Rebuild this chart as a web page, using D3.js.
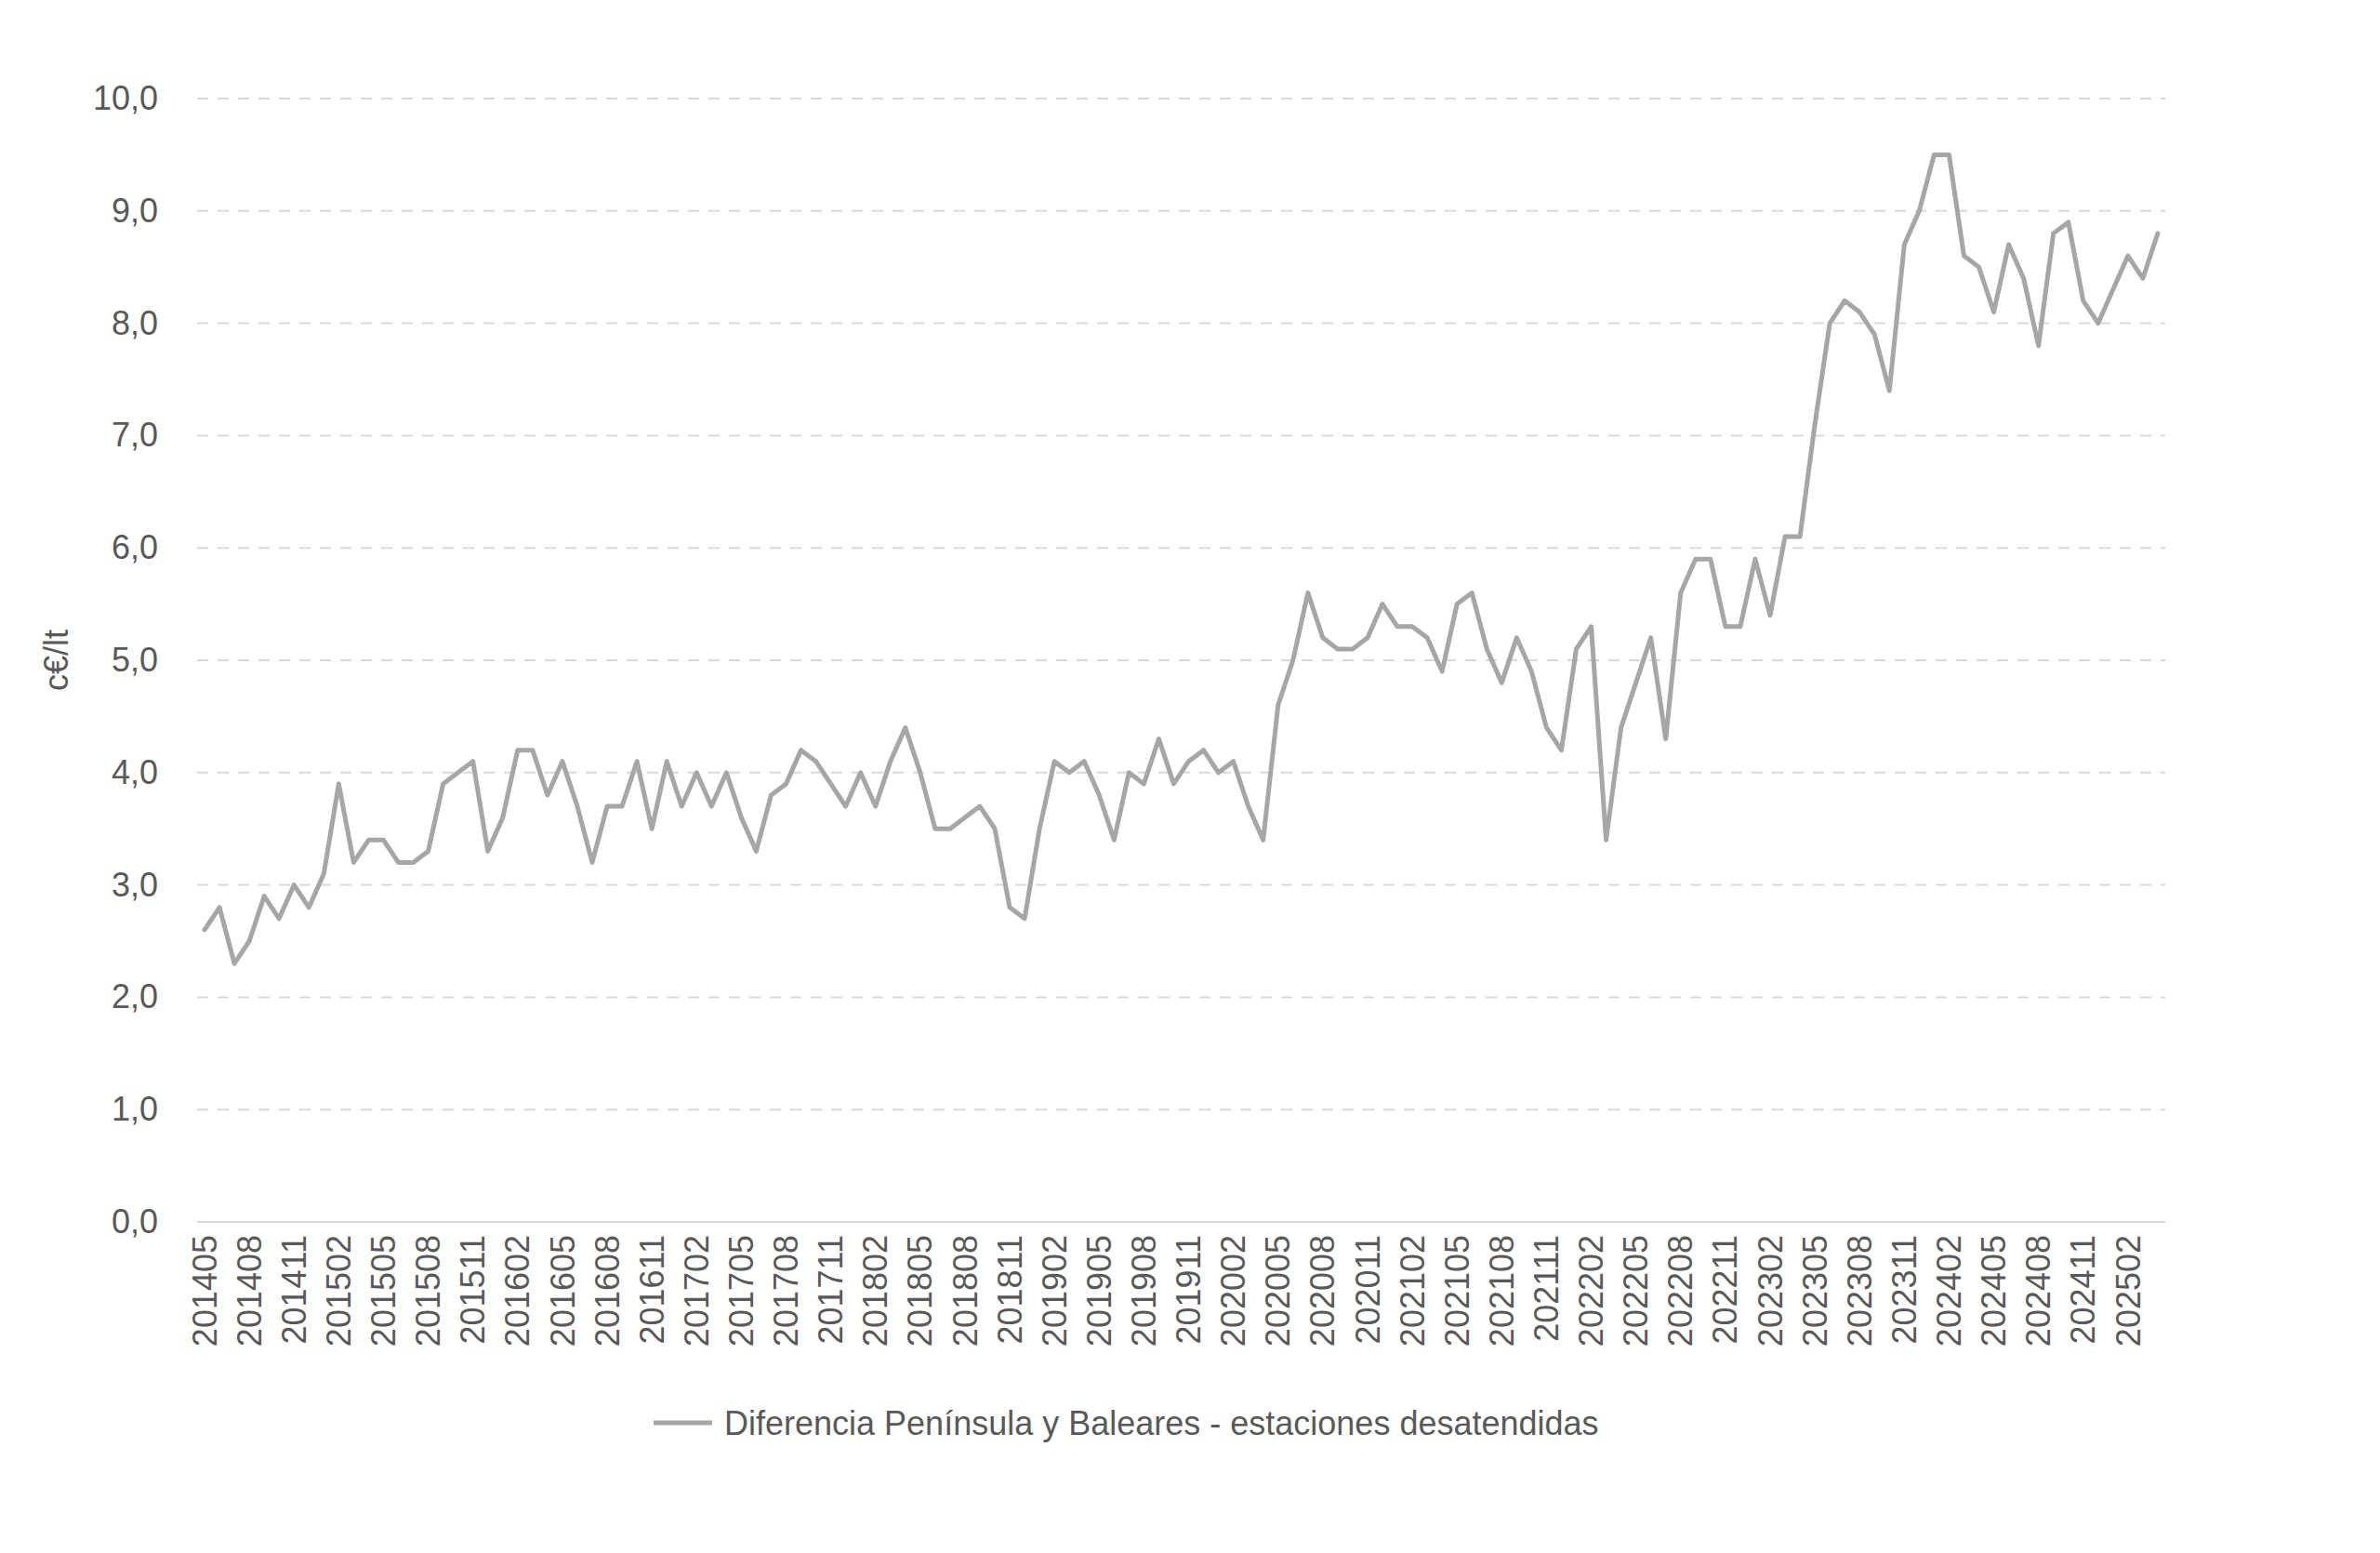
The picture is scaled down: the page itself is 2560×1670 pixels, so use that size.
<!DOCTYPE html>
<html><head><meta charset="utf-8">
<script src="https://cdn.jsdelivr.net/npm/d3@7"></script>
<style>body{margin:0;background:#fff;}text{font-family:Arial,"Liberation Sans",sans-serif;}</style>
</head><body><svg id="c" width="2560" height="1670"></svg>
<script>
const values = [2.6,2.8,2.3,2.5,2.9,2.7,3.0,2.8,3.1,3.9,3.2,3.4,3.4,3.2,3.2,3.3,3.9,4.0,4.1,3.3,3.6,4.2,4.2,3.8,4.1,3.7,3.2,3.7,3.7,4.1,3.5,4.1,3.7,4.0,3.7,4.0,3.6,3.3,3.8,3.9,4.2,4.1,3.9,3.7,4.0,3.7,4.1,4.4,4.0,3.5,3.5,3.6,3.7,3.5,2.8,2.7,3.5,4.1,4.0,4.1,3.8,3.4,4.0,3.9,4.3,3.9,4.1,4.2,4.0,4.1,3.7,3.4,4.6,5.0,5.6,5.2,5.1,5.1,5.2,5.5,5.3,5.3,5.2,4.9,5.5,5.6,5.1,4.8,5.2,4.9,4.4,4.2,5.1,5.3,3.4,4.4,4.8,5.2,4.3,5.6,5.9,5.9,5.3,5.3,5.9,5.4,6.1,6.1,7.1,8.0,8.2,8.1,7.9,7.4,8.7,9.0,9.5,9.5,8.6,8.5,8.1,8.7,8.4,7.8,8.8,8.9,8.2,8.0,8.3,8.6,8.4,8.8];
const categories = values.map((v,i)=>{const m=4+i; const y=2014+Math.floor(m/12); const mm=(m%12)+1; return ""+y+(mm<10?"0":"")+mm;});
const yTicks = [0,1,2,3,4,5,6,7,8,9,10];
const seriesName = "Diferencia Península y Baleares - estaciones desatendidas";

const svg = d3.select("#c");
const L=212, R=2329, T=106, B=1314;
const x = d3.scaleBand().domain(categories).range([L,R]);
const y = d3.scaleLinear().domain([0,10]).range([B,T]);
const fmt = d => d.toFixed(1).replace(".", ",");
const FS = 36;

svg.append("g").selectAll("line").data(yTicks.filter(d=>d>0)).join("line")
  .attr("x1",L).attr("x2",R).attr("y1",d=>y(d)).attr("y2",d=>y(d))
  .attr("stroke","#d9d9d9").attr("stroke-width",2).attr("stroke-dasharray","12,10");
svg.append("line").attr("x1",L).attr("x2",R).attr("y1",B).attr("y2",B).attr("stroke","#d9d9d9").attr("stroke-width",2);

const ya = svg.append("g").attr("transform",`translate(${L},0)`).call(d3.axisLeft(y).tickValues(yTicks).tickFormat(fmt).tickSize(0).tickPadding(42));
ya.select(".domain").remove();
ya.selectAll("text").attr("font-size",FS).attr("fill","#595959");

const xa = svg.append("g").attr("transform",`translate(0,${B})`).call(d3.axisBottom(x).tickValues(categories.filter((d,i)=>i%3===0)).tickSize(0));
xa.select(".domain").remove();
xa.selectAll("text").attr("font-size",FS).attr("fill","#595959")
  .attr("transform","rotate(-90)").attr("text-anchor","end").attr("dx","-14").attr("dy","0.35em").attr("y",0);

svg.append("text").attr("transform",`translate(60,${y(5)}) rotate(-90)`).attr("text-anchor","middle")
  .attr("dy","0.35em").attr("font-size",FS).attr("fill","#595959").text("c€/lt");

const line = d3.line().x((d,i)=>x(categories[i])+x.bandwidth()/2).y(d=>y(d));
svg.append("path").datum(values).attr("d",line).attr("fill","none").attr("stroke","#a6a6a6").attr("stroke-width",5).attr("stroke-linejoin","round").attr("stroke-linecap","round");

const lg = svg.append("g").attr("transform","translate(703,1530)");
lg.append("line").attr("x1",0).attr("x2",63).attr("stroke","#a6a6a6").attr("stroke-width",5);
lg.append("text").attr("x",76).attr("dy","0.35em").attr("font-size",FS).attr("fill","#595959").text(seriesName);
</script></body></html>
